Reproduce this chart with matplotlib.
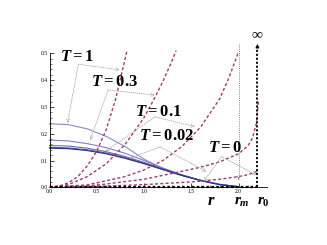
import matplotlib
matplotlib.use("Agg")
import matplotlib.pyplot as plt

plt.rcParams['mathtext.fontset'] = 'custom'
plt.rcParams['mathtext.it'] = 'Liberation Serif:italic:bold'
plt.rcParams['mathtext.rm'] = 'Liberation Serif:bold'
plt.rcParams['mathtext.bf'] = 'Liberation Serif:bold'

# ---- data ----
temps = ["1", "0.3", "0.1", "0.02", "0"]

blue_x = [0, 0.2, 0.4, 0.6, 0.8, 1.0, 1.2, 1.4, 1.6, 1.8, 2.0]
blue_T1 = [0.237, 0.234, 0.218, 0.19, 0.152, 0.105, 0.07, 0.045, 0.025, 0.01, 0.002]
blue_T03 = [0.176, 0.173, 0.163, 0.148, 0.127, 0.1, 0.072, 0.047, 0.026, 0.01, 0.002]
blue_T01 = [0.156, 0.154, 0.146, 0.133, 0.115, 0.093, 0.069, 0.046, 0.026, 0.011, 0.002]
blue_T002 = [0.149, 0.147, 0.14, 0.128, 0.111, 0.09, 0.067, 0.045, 0.026, 0.011, 0.002]
blue_T0 = [0.146, 0.144, 0.137, 0.125, 0.108, 0.088, 0.066, 0.044, 0.025, 0.01, 0.002]

redA_x = [0, 0.1, 0.2, 0.3, 0.4, 0.5, 0.6, 0.7, 0.8, 0.82]
redA_y = [0, 0.004, 0.017, 0.04, 0.08, 0.135, 0.215, 0.33, 0.48, 0.51]
redB_x = [0, 0.2, 0.4, 0.6, 0.8, 1.0, 1.1, 1.2, 1.3, 1.34]
redB_y = [0, 0.01, 0.04, 0.088, 0.16, 0.26, 0.325, 0.395, 0.475, 0.51]
redC_x = [0, 0.4, 0.8, 1.0, 1.2, 1.4, 1.6, 1.8, 1.9, 2.0]
redC_y = [0, 0.009, 0.04, 0.065, 0.1, 0.152, 0.225, 0.33, 0.41, 0.505]
redD_x = [0, 0.5, 1.0, 1.3, 1.6, 1.8, 2.0, 2.1, 2.15, 2.19, 2.21]
redD_y = [0, 0.008, 0.03, 0.052, 0.075, 0.095, 0.125, 0.155, 0.185, 0.24, 0.32]
redE_x = [0, 0.5, 1.0, 1.5, 1.8, 2.0, 2.1, 2.2]
redE_y = [0, 0.003, 0.01, 0.02, 0.03, 0.04, 0.047, 0.06]

x_ticks = [0.0, 0.5, 1.0, 1.5, 2.0]
y_ticks = [0.0, 0.1, 0.2, 0.3, 0.4, 0.5]
r_m = 2.0
r_0 = 2.2

fig = plt.figure(figsize=(3.27, 2.45), dpi=100)
ax = fig.add_axes([0.1514, 0.2355, 0.6647, 0.6016])
ax.set_xlim(0, 2.3)
ax.set_ylim(0, 0.55)

blue_cols = ['#8a8ac4', '#7f7fbf', '#6c6cb4', '#55559f', '#2e2e7e']
for ys, c in zip([blue_T1, blue_T03, blue_T01, blue_T002, blue_T0], blue_cols):
    ax.plot(blue_x, ys, color=c, lw=0.8, clip_on=False)

red = '#9e3d70'
for xs, ys in [(redA_x, redA_y), (redB_x, redB_y), (redC_x, redC_y),
               (redD_x, redD_y), (redE_x, redE_y)]:
    ax.plot(xs, ys, color=red, lw=1.0, ls=(0, (2.2, 1.6)), clip_on=False)

# bottom thick dotted line and r0 line
ax.plot([0, r_0], [0, 0], color='black', lw=1.6, ls=(0, (1.2, 1.0)), clip_on=False)
ax.plot([r_0, r_0], [0, 0.52], color='black', lw=1.3, ls=(0, (1.2, 1.0)), clip_on=False)
ax.annotate('', xy=(r_0, 0.535), xytext=(r_0, 0.515),
            arrowprops=dict(arrowstyle='-|>', color='black', lw=0.8,
                            mutation_scale=5), annotation_clip=False)
ax.text(r_0, 0.575, r'$\infty$', ha='center', va='center', fontsize=11)

# r_m line
ax.plot([r_m, r_m], [0.535, 0.03], color='#888888', lw=0.7, ls=(0, (1, 1.2)), clip_on=False)
ax.annotate('', xy=(r_m, 0.018), xytext=(r_m, 0.04),
            arrowprops=dict(arrowstyle='->', color='#888888', lw=0.6,
                            mutation_scale=5), annotation_clip=False)

# labels with arrows
labels = [
    ("1", (0.29, 0.49), (0.305, 0.459), [(0.19, 0.239), (0.746, 0.438)]),
    ("0.3", (0.69, 0.397), (0.62, 0.363), [(0.43, 0.176), (1.116, 0.344)]),
    ("0.1", (1.15, 0.284), (1.116, 0.263), [(0.587, 0.133), (1.54, 0.226)]),
    ("0.02", (1.243, 0.197), (1.17, 0.151), [(0.85, 0.108), (1.663, 0.058)]),
    ("0", (1.857, 0.15), (1.82, 0.114), [(1.63, 0.021), (2.19, 0.046)]),
]
for t, pos, br, targets in labels:
    ax.text(pos[0], pos[1], r'$T = %s$' % t, ha='center', va='center',
            fontsize=12)
    for tg in targets:
        ax.annotate('', xy=tg, xytext=br,
                    arrowprops=dict(arrowstyle='->', color='#a8a8a8', lw=0.6,
                                    ls=(0, (1, 1.5)), mutation_scale=6,
                                    shrinkA=0, shrinkB=0),
                    annotation_clip=False)

# axis labels under axis
ax.text(1.709, -0.047, r'$r$', ha='center', va='center', fontsize=12)
ax.text(2.03, -0.052, r'$r_m$', ha='center', va='center', fontsize=11)
ax.text(2.26, -0.052, r'$r_0$', ha='center', va='center', fontsize=11)

# spines & ticks
ax.spines['top'].set_visible(False)
ax.spines['right'].set_visible(False)
ax.spines['left'].set_bounds(0, 0.5)
ax.spines['left'].set_linewidth(0.6)
ax.spines['bottom'].set_linewidth(0.6)
ax.set_xticks(x_ticks)
ax.set_xticklabels(['%.1f' % v for v in x_ticks])
ax.set_yticks(y_ticks)
ax.set_yticklabels(['%.1f' % v for v in y_ticks])
ax.set_xticks([i * 0.1 for i in range(23)], minor=True)
ax.set_yticks([i * 0.02 for i in range(26)], minor=True)
ax.tick_params(which='major', direction='in', length=3, width=0.5,
               labelsize=4, pad=1.5)
ax.tick_params(which='minor', direction='in', length=1.5, width=0.4)
for lab in ax.get_xticklabels() + ax.get_yticklabels():
    lab.set_fontfamily('Liberation Serif')

fig.savefig('out.png', dpi=100)
